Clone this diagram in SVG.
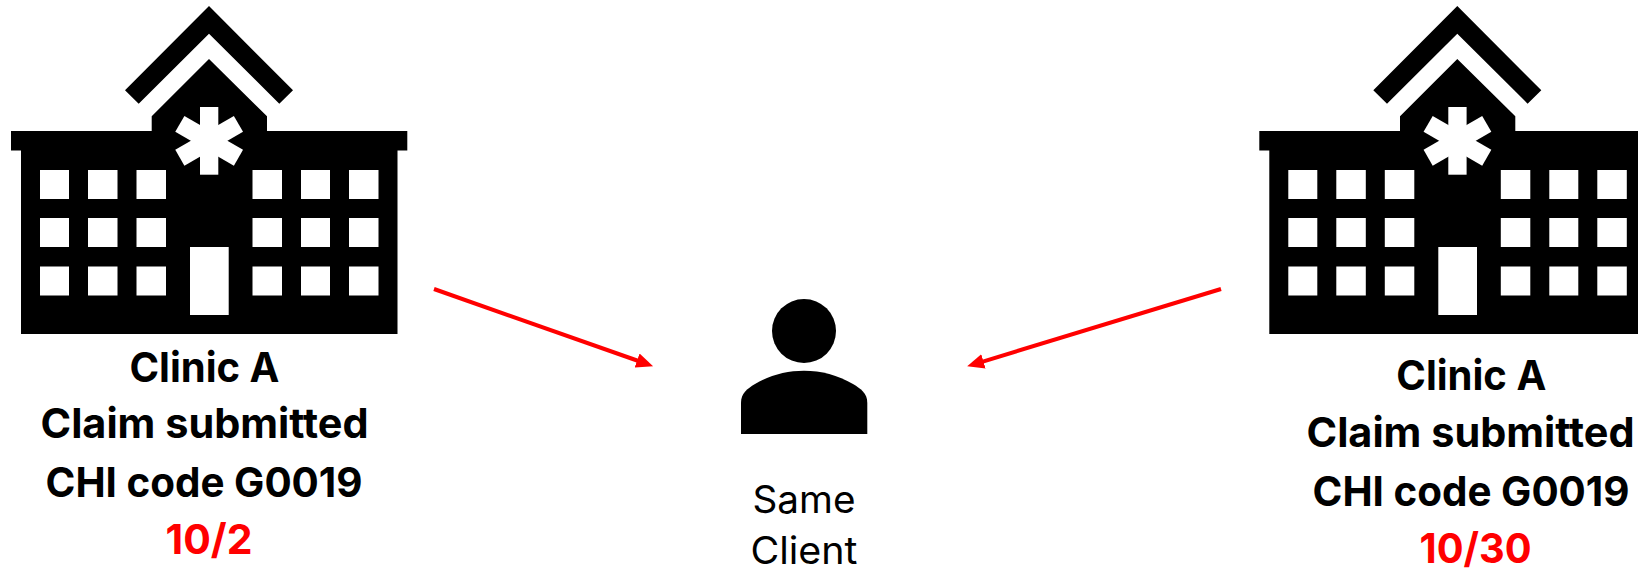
<svg xmlns="http://www.w3.org/2000/svg" width="1638" height="569" viewBox="0 0 1638 569">
<style>
text{font-family:"Inter","Liberation Sans",sans-serif;text-anchor:middle}
.b{font-weight:700;font-size:41.500px;fill:#000}
.r{fill:#f00}
.n{font-weight:400;font-size:38px;fill:#000}
.w{fill:#fff}
.c{stroke:#f00;stroke-width:4;fill:none;marker-end:url(#ah)}
</style>
<defs>
<marker id="ah" markerUnits="userSpaceOnUse" markerWidth="18" markerHeight="16" refX="1.500" refY="8" orient="auto"><path d="M0 0.500L17 8L0 15.500Z" fill="#f00"/></marker>
<g id="clinic">
<path d="M209 6L293 90.300L279.300 103.700L209 33.700L138.700 103.700L125 90.300Z"/>
<path d="M209 59L267 116.300V131H407.300V150.500H397.500V334H21V150.500H11V131H151.700V116.300Z"/>
<g class="w">
<rect x="200" y="107" width="18.300" height="67.700"/>
<rect x="200" y="107" width="18.300" height="67.700" transform="rotate(60 209.150 140.850)"/>
<rect x="200" y="107" width="18.300" height="67.700" transform="rotate(-60 209.150 140.850)"/>
<rect x="190" y="247" width="38.700" height="68"/>
<path d="M40 170h29v29h-29zM88 170h29.500v29h-29.500zM136.500 170h29.500v29h-29.500zM252.500 170h29.500v29h-29.500zM301 170h29v29h-29zM349 170h29.500v29h-29.500z"/>
<path d="M40 218h29v29h-29zM88 218h29.500v29h-29.500zM136.500 218h29.500v29h-29.500zM252.500 218h29.500v29h-29.500zM301 218h29v29h-29zM349 218h29.500v29h-29.500z"/>
<path d="M40 266.500h29v29h-29zM88 266.500h29.500v29h-29.500zM136.500 266.500h29.500v29h-29.500zM252.500 266.500h29.500v29h-29.500zM301 266.500h29v29h-29zM349 266.500h29.500v29h-29.500z"/>
</g>
</g>
</defs>
<rect width="1638" height="569" fill="#fff"/>
<g id="connectors">
<line class="c" x1="434" y1="289" x2="638.500" y2="361"/>
<line class="c" x1="1221" y1="289" x2="982" y2="361.800"/>
</g>
<g id="clinic-left">
<use href="#clinic"/>
<text class="b" x="204.500" y="381.700" textLength="150" lengthAdjust="spacingAndGlyphs">Clinic A</text>
<text class="b" x="204.500" y="438" textLength="328" lengthAdjust="spacingAndGlyphs">Claim submitted</text>
<text class="b" x="204" y="496.700" textLength="317" lengthAdjust="spacingAndGlyphs">CHI code G0019</text>
<text class="b r" x="209" y="554" textLength="87" lengthAdjust="spacingAndGlyphs">10/2</text>
</g>
<g id="client">
<circle cx="804" cy="331" r="32"/>
<path d="M741 434V403C741 393 747 389 755 384C770 375 787 370.700 804 370.700C821 370.700 838 375 853 384C861 389 867.300 393 867.300 403V434Z"/>
<text class="n" x="804" y="512.700" textLength="103" lengthAdjust="spacingAndGlyphs">Same</text>
<text class="n" x="804" y="564" textLength="107" lengthAdjust="spacingAndGlyphs">Client</text>
</g>
<g id="clinic-right">
<use href="#clinic" x="1248.300"/>
<text class="b" x="1471.300" y="390" textLength="150" lengthAdjust="spacingAndGlyphs">Clinic A</text>
<text class="b" x="1470.500" y="447" textLength="328" lengthAdjust="spacingAndGlyphs">Claim submitted</text>
<text class="b" x="1471" y="506" textLength="317" lengthAdjust="spacingAndGlyphs">CHI code G0019</text>
<text class="b r" x="1475.500" y="563" textLength="112" lengthAdjust="spacingAndGlyphs">10/30</text>
</g>
</svg>
